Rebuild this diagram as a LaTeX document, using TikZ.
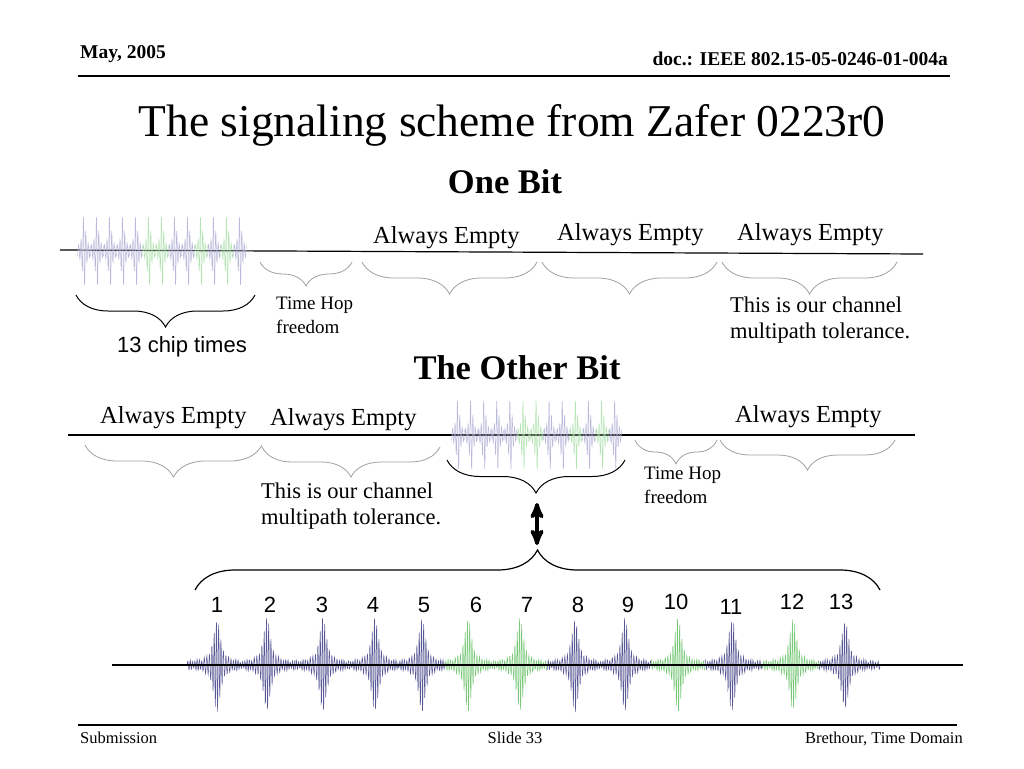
\documentclass[tikz,border=0pt]{standalone}
\usepackage{fontspec}
\setmainfont{Liberation Serif}
\setsansfont{Liberation Sans}
\usepackage{xcolor}
\usepackage{tikz}
\usetikzlibrary{arrows,decorations.pathreplacing}
\definecolor{ChipBlue}{RGB}{88,88,150}
\definecolor{ChipGreen}{RGB}{120,200,120}
\definecolor{FadeBlue}{RGB}{185,185,220}
\definecolor{FadeGreen}{RGB}{180,228,180}
\definecolor{BraceGray}{RGB}{160,160,160}
\tikzset{
  BaseNode/.style = {inner sep=0pt, anchor=base west},
  HeadNode/.style = {BaseNode, font=\fontsize{19.5}{22}\selectfont\bfseries},
  FootNode/.style = {BaseNode, font=\fontsize{16.5}{19}\selectfont},
  TitleNode/.style = {BaseNode, anchor=base, font=\fontsize{45.5}{54}\selectfont},
  BitNode/.style = {BaseNode, anchor=base, font=\fontsize{34.5}{40}\selectfont\bfseries},
  EmptyNode/.style = {BaseNode, font=\fontsize{24.5}{28}\selectfont},
  HopNode/.style = {BaseNode, align=left, font=\fontsize{19}{24}\selectfont},
  NoteNode/.style = {BaseNode, align=left, font=\fontsize{22.5}{26}\selectfont},
  SansNode/.style = {BaseNode, font=\sffamily\fontsize{22}{26}\selectfont},
  ChipNode/.style = {SansNode, anchor=base},
  GrayBrace/.style = {draw=BraceGray, line width=0.8pt, decorate, decoration={brace, mirror, amplitude=#1}},
  BlackBrace/.style = {draw=black, line width=1pt, decorate, decoration={brace, mirror, amplitude=#1}},
  BigBrace/.style = {draw=black, line width=1.2pt, decorate, decoration={brace, amplitude=#1}},
  AxisLine/.style = {draw=black, line width=1.2pt},
  RuleLine/.style = {draw=black, line width=2pt},
  DoubleArrow/.style = {<->, line width=3.8pt},
  PulseLine/.style = {line width=0.5pt},
}

\begin{document}
\begin{tikzpicture}[x=1pt, y=-1pt, >=stealth']
    \fill[white] (0,0) rectangle (1024,768);
    \useasboundingbox (0,0) rectangle (1024,768);

    \node [HeadNode] (DateText) at (80,59) {May, 2005};
    \node [HeadNode, anchor=base east] (DocText) at (948,66) {doc.: IEEE 802.15-05-0246-01-004a};
    \draw [RuleLine] (78,76) -- (950,76);
    \node [TitleNode] (TitleText) at (512,136) {The signaling scheme from Zafer 0223r0};

    % one bit
    \node [BitNode] (OneBitText) at (505,193) {One Bit};
    \draw [AxisLine] (60,250) -- (923,254);
    \foreach \i/\col in {0/FadeBlue,1/FadeBlue,2/FadeBlue,3/FadeBlue,4/FadeBlue,5/FadeGreen,6/FadeGreen,7/FadeBlue,8/FadeBlue,9/FadeGreen,10/FadeBlue,11/FadeGreen,12/FadeBlue}
        \draw [PulseLine, \col] plot[domain=-6.5:6.5, samples=50] ({84+13*\i+\x}, {251+36*(1/(1+(\x/1.6)^2)+0.1)*sin(150*\x)});
    \node [EmptyNode] (EmptyOneA) at (373,243) {Always Empty};
    \node [EmptyNode] (EmptyOneB) at (557,240) {Always Empty};
    \node [EmptyNode] (EmptyOneC) at (737,240) {Always Empty};
    \draw [GrayBrace=24] (260,262) -- (352,262);
    \draw [GrayBrace=32] (362,262) -- (537,262);
    \draw [GrayBrace=32] (542,262) -- (717,262);
    \draw [GrayBrace=32] (722,262) -- (897,262);
    \draw [BlackBrace=32] (76,295) -- (255,295);
    \node [HopNode] (HopOne) at (276,333) {Time Hop\\freedom};
    \node [NoteNode] (ToleranceOne) at (730,338) {This is our channel\\multipath tolerance.};
    \node [SansNode] (ChipTimesText) at (117,352) {13 chip times};

    % the other bit
    \node [BitNode] (OtherBitText) at (517,379) {The Other Bit};
    \draw [AxisLine] (68,435) -- (915,435);
    \foreach \i/\col in {0/FadeBlue,1/FadeBlue,2/FadeBlue,3/FadeBlue,4/FadeBlue,5/FadeGreen,6/FadeGreen,7/FadeBlue,8/FadeBlue,9/FadeGreen,10/FadeBlue,11/FadeGreen,12/FadeBlue}
        \draw [PulseLine, \col] plot[domain=-6.5:6.5, samples=50] ({458+13.1*\i+\x}, {435+36*(1/(1+(\x/1.6)^2)+0.1)*sin(150*\x)});
    \node [EmptyNode] (EmptyTwoA) at (100,423) {Always Empty};
    \node [EmptyNode] (EmptyTwoB) at (270,425) {Always Empty};
    \node [EmptyNode] (EmptyTwoC) at (735,422) {Always Empty};
    \draw [GrayBrace=32] (85,445) -- (262,445);
    \draw [GrayBrace=30] (262,447) -- (440,447);
    \draw [GrayBrace=24] (635,440) -- (717,440);
    \draw [GrayBrace=30] (720,440) -- (895,440);
    \draw [BlackBrace=33] (447,460) -- (625,460);
    \node [HopNode] (HopTwo) at (644,503) {Time Hop\\freedom};
    \node [NoteNode] (ToleranceTwo) at (261,524) {This is our channel\\multipath tolerance.};

    % zoom on the chips
    \coordinate (ArrowTop) at (537,503);
    \coordinate (ArrowBottom) at (537,545);
    \draw [DoubleArrow] (ArrowTop) -- (ArrowBottom);
    \draw [BigBrace=40] (195,590) -- (880,590);
    \foreach \c/\l/\r/\col in {217/-30/25/ChipBlue,267/-25/28/ChipBlue,323/-28/26/ChipBlue,375/-26/23/ChipBlue,422/-24/23/ChipBlue,468/-23/26/ChipGreen,520/-26/27/ChipGreen,575/-28/25/ChipBlue,625/-25/26/ChipBlue,678/-27/27/ChipGreen,732/-27/30/ChipBlue,793/-31/26/ChipGreen,845/-26/35/ChipBlue}
        \draw [PulseLine, \col] plot[domain=\l:\r, samples=170] ({\c+\x}, {665+46*(1/(1+(\x/3.8)^2)+0.03+0.06*abs(sin(23*\x)))*sin(150*\x+40*sin(17*\x))});
    \draw [AxisLine] (112,665) -- (963,665);
    \foreach \n/\c/\b in {1/217/612,2/270/612,3/322/612,4/373/612,5/424/612,6/476/612,7/527/612,8/578/612,9/628/612,10/676/609,11/731/614,12/792/609,13/841/609}
        \node [ChipNode] (Num\n) at (\c,\b) {\n};

    \draw [RuleLine] (78,725) -- (957,725);
    \node [FootNode] (SubmissionText) at (80,743) {Submission};
    \node [FootNode, anchor=base] (SlideText) at (515,743) {Slide 33};
    \node [FootNode, anchor=base east] (AuthorText) at (963,743) {Brethour, Time Domain};
\end{tikzpicture}
\end{document}
